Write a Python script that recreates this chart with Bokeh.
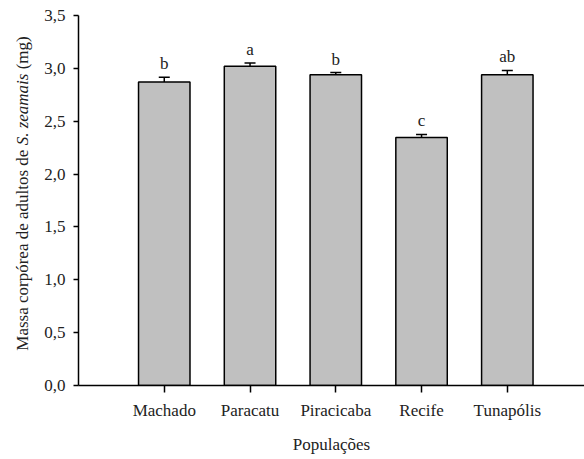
import math
from bokeh.plotting import figure
from bokeh.layouts import row
from bokeh.models import ColumnDataSource, Whisker, TeeHead, Range1d, FixedTicker
from bokeh.core.properties import value
from bokeh.embed import file_html
from bokeh.resources import INLINE

populations = ["Machado", "Paracatu", "Piracicaba", "Recife", "Tunapólis"]
means = [2.87, 3.02, 2.94, 2.345, 2.94]
errors = [0.045, 0.03, 0.02, 0.03, 0.04]
letters = ["b", "a", "b", "c", "ab"]
y_ticks = [0.0, 0.5, 1.0, 1.5, 2.0, 2.5, 3.0, 3.5]
y_tick_labels = ["0,0", "0,5", "1,0", "1,5", "2,0", "2,5", "3,0", "3,5"]
y_title_parts = ["Massa corpórea de adultos de", "S. zeamais", "(mg)"]
y_title_styles = ["normal", "italic", "normal"]

FONT = "Liberation Serif"
TXT = "#222222"
H = 459
TITLE_W = 34
TOP, BOTTOM = 15, 74

xs = list(range(len(populations)))
src = ColumnDataSource(dict(
    x=xs, top=means,
    upper=[m + e for m, e in zip(means, errors)],
    lower=means, letter=letters,
))

p = figure(width=584 - TITLE_W, height=H, output_backend="svg", toolbar_location=None,
           x_range=Range1d(-1, 4.9), y_range=Range1d(0, 3.5),
           min_border_left=78 - TITLE_W, min_border_right=0,
           min_border_top=TOP, min_border_bottom=BOTTOM)
p.outline_line_color = None
p.xgrid.grid_line_color = None
p.ygrid.grid_line_color = None

p.vbar(x="x", top="top", bottom=0, width=0.6, source=src,
       fill_color="#c0c0c0", line_color="black", line_width=1.5)

w = Whisker(base="x", upper="upper", lower="lower", source=src,
            line_color="black", line_width=1.5,
            upper_head=TeeHead(size=11, line_color="black", line_width=1.5),
            lower_head=None)
p.add_layout(w)

p.text(x="x", y="upper", text="letter", source=src, text_align="center",
       text_baseline="bottom", y_offset=-4, text_font_size="17px",
       text_color=TXT, text_font=value(FONT))

p.xaxis.ticker = FixedTicker(ticks=xs)
p.xaxis.major_label_overrides = {i: n for i, n in enumerate(populations)}
p.xaxis.minor_tick_line_color = None
p.xaxis.major_tick_in = 0
p.xaxis.major_tick_out = 7
p.xaxis.axis_line_width = 1.5
p.xaxis.major_tick_line_width = 1.5
p.xaxis.major_label_text_font = FONT
p.xaxis.major_label_text_font_size = "17px"
p.xaxis.major_label_text_color = TXT
p.xaxis.major_label_standoff = 8
p.xaxis.axis_label = "Populações"
p.xaxis.axis_label_text_font = FONT
p.xaxis.axis_label_text_font_size = "17px"
p.xaxis.axis_label_text_font_style = "normal"
p.xaxis.axis_label_text_color = TXT
p.xaxis.axis_label_standoff = 12

p.yaxis.ticker = FixedTicker(ticks=y_ticks)
p.yaxis.major_label_overrides = {t: l for t, l in zip(y_ticks, y_tick_labels)}
p.yaxis.minor_tick_line_color = None
p.yaxis.major_tick_in = 0
p.yaxis.major_tick_out = 5
p.yaxis.axis_line_width = 1.5
p.yaxis.major_tick_line_width = 1.5
p.yaxis.major_label_text_font = FONT
p.yaxis.major_label_text_font_size = "17px"
p.yaxis.major_label_text_color = TXT
p.yaxis.major_label_standoff = 8

# narrow side panel carrying the y-axis title (mixed roman / italic)
t = figure(width=TITLE_W, height=H, output_backend="svg", toolbar_location=None,
           x_range=Range1d(0, 1), y_range=Range1d(0, 1),
           x_axis_type=None, y_axis_type=None,
           min_border_left=0, min_border_right=0, min_border_top=0, min_border_bottom=0)
t.outline_line_color = None
t.xgrid.grid_line_color = None
t.ygrid.grid_line_color = None
t.title.visible = False

fs = 17
space_em = 0.25
em_widths = [11.83, 4.222, 1.944]  # Times metrics of the three parts
total_px = (sum(em_widths) + 2 * space_em) * fs
frame_center_from_top = 205.5      # where y=0.5 lands in the side panel
shift_up = frame_center_from_top - 198.5
offs = []
cur = total_px / 2 - shift_up      # screen y offset (down positive) of the start
for ew in em_widths:
    offs.append(cur)
    cur -= (ew + space_em) * fs
tsrc = ColumnDataSource(dict(x=[0.5] * 3, y=[0.5] * 3, yoff=offs,
                             text=y_title_parts, style=y_title_styles))
t.text(x="x", y="y", text="text", source=tsrc, angle=math.pi / 2,
       x_offset=5, y_offset="yoff",
       text_align="left", text_baseline="middle", text_font=value(FONT),
       text_font_size=f"{fs}px", text_font_style="style", text_color=TXT)

open("out.html", "w").write(file_html(row(t, p), INLINE))
